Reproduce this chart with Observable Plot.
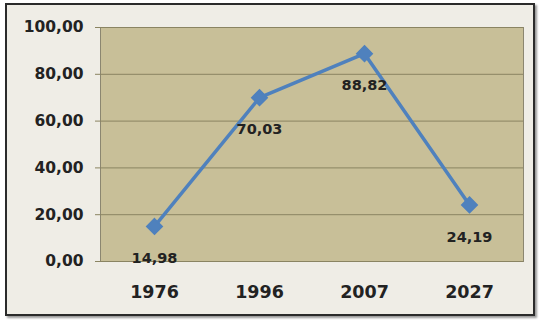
<!DOCTYPE html>
<html>
<head>
<meta charset="utf-8">
<script src="https://cdn.jsdelivr.net/npm/d3@7"></script>
<script src="https://cdn.jsdelivr.net/npm/@observablehq/plot@0.6"></script>
<style>
  html, body { margin: 0; padding: 0; background: #ffffff; }
  #wrap { position: relative; width: 540px; height: 322px; }
  #box { position: absolute; left: 5px; top: 3px; width: 526px; height: 309px;
         border: 2px solid #2b2b2b; background: #efede6; box-shadow: 2px 2px 2px #999; }
  #chart { position: absolute; left: 0; top: 0; }
  svg { font-family: "DejaVu Sans", "Liberation Sans", Arial, sans-serif; }
</style>
</head>
<body>
<div id="wrap"><div id="box"></div><div id="chart"></div></div>
<script>
const years = ["1976", "1996", "2007", "2027"];
const values = [14.98, 70.03, 88.82, 24.19];
const yTicks = [0, 20, 40, 60, 80, 100];

const data = years.map((y, i) => ({year: y, value: values[i]}));
const fmt = v => v.toFixed(2).replace(".", ",");

const plot = Plot.plot({
  width: 540,
  height: 322,
  marginLeft: 100,
  marginRight: 17,
  marginTop: 27,
  marginBottom: 61,
  style: {background: "transparent", color: "#222", fontWeight: "bold"},
  x: {type: "point", domain: years, padding: 0.5, label: null},
  y: {domain: [0, 100], ticks: yTicks, label: null},
  marks: [
    Plot.frame({fill: "#c8bf98", stroke: "#8b8670"}),
    Plot.ruleY(yTicks, {stroke: "#8a8462", strokeWidth: 1}),
    Plot.axisY(yTicks, {tickSize: 5, tickPadding: 12, tickFormat: fmt, fontSize: 15.5, fontWeight: "bold", stroke: "#8a8462", fill: "#222"}),
    Plot.axisX({tickSize: 0, tickPadding: 24, fontSize: 17.5, fontWeight: "bold", fill: "#222"}),
    Plot.line(data, {x: "year", y: "value", stroke: "#4f81bd", strokeWidth: 3.5}),
    Plot.dot(data, {x: "year", y: "value", symbol: "diamond2", r: 7, fill: "#4f81bd", stroke: "#4f81bd"}),
    Plot.text(data, {x: "year", y: "value", text: d => fmt(d.value), dy: 32, fontSize: 14.5, fontWeight: "bold", fill: "#222"})
  ]
});
document.getElementById("chart").appendChild(plot);
</script>
</body>
</html>
